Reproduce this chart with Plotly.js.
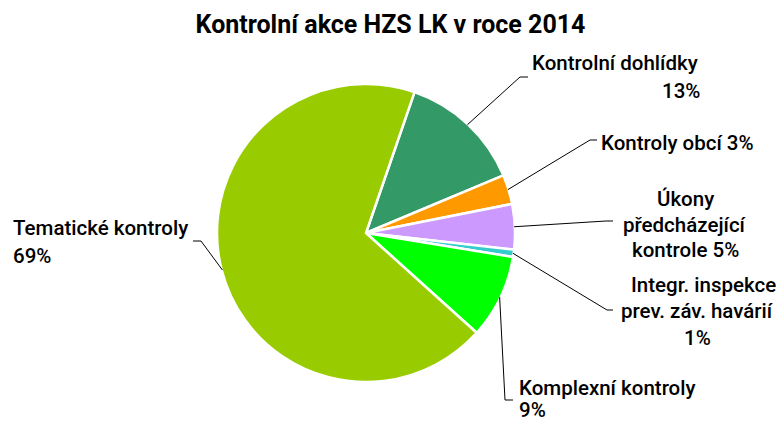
<!DOCTYPE html>
<html><head><meta charset="utf-8">
<script src="https://cdn.plot.ly/plotly-3.0.1.min.js"></script>
<style>html,body{margin:0;padding:0;background:#fff;}#chart{width:781px;height:423px;}</style>
</head><body><div id="chart"></div>
<script>
const categories = ["Kontrolní dohlídky","Kontroly obcí","Úkony předcházející kontrole","Integr. inspekce prev. záv. havárií","Komplexní kontroly","Tematické kontroly"];
const values = [13.4, 3.2, 4.9, 0.8, 9.1, 68.6];
const colors = ["#339966","#FF9900","#CC99FF","#33CCCC","#00FF00","#99CC00"];
// label lines per category ({p} = percentage)
const labelLines = [
  ["Kontrolní dohlídky", "{p}"],
  ["Kontroly obcí {p}"],
  ["Úkony", "předcházející", "kontrole {p}"],
  ["Integr. inspekce", "prev. záv. havárií", "{p}"],
  ["Komplexní kontroly", "{p}"],
  ["Tematické kontroly", "{p}"]
];

const W = 781, H = 423;
const CX = 366, CY = 233, R = 149, ROT = 19;
const px = x => x / W, py = y => 1 - y / H;
const FONT = "Roboto, sans-serif";

// label line positions (pixel)
const labelPos = [
  [{x:531,y:63,a:"left"},{x:701,y:91,a:"right"}],
  [{x:600,y:143,a:"left"}],
  [{x:685,y:199,a:"center"},{x:685,y:225,a:"center"},{x:685,y:250,a:"center"}],
  [{x:703,y:285,a:"center"},{x:697,y:311,a:"center"},{x:697,y:338,a:"center"}],
  [{x:518,y:388,a:"left"},{x:518,y:410,a:"left"}],
  [{x:12,y:228,a:"left"},{x:12,y:256,a:"left"}]
];
// leader elbows (pixel): [elbow, end]
const leaders = [
  [[520,77],[528,77]],
  [[590,140],[597,140]],
  [[606,221],[613,221]],
  [[607,310],[613,310]],
  [[505,400],[513,400]],
  [[201,241],[193,241]]
];

const total = values.reduce((a,b)=>a+b,0);
const shapes = [], annotations = [];
let cum = 0;
values.forEach((v,i)=>{
  const mid = (ROT + 360*(cum + v/2)/total) * Math.PI/180;
  cum += v;
  const ax = CX + R*0.995*Math.sin(mid), ay = CY - R*0.995*Math.cos(mid);
  const [e, f] = leaders[i];
  shapes.push({type:"path", xref:"paper", yref:"paper",
    path:`M ${px(ax)} ${py(ay)} L ${px(e[0])} ${py(e[1])} L ${px(f[0])} ${py(f[1])}`,
    line:{color:"#000", width:1}});
  const pct = Math.round(100*v/total) + "%";
  labelLines[i].forEach((t,j)=>{
    const p = labelPos[i][j];
    annotations.push({xref:"paper", yref:"paper", x:px(p.x), y:py(p.y), xanchor:p.a, yanchor:"middle",
      text:t.replace("{p}", pct), showarrow:false, borderpad:0,
      font:{family:FONT, size:20.5, weight:500, color:"#000"}});
  });
});

const trace = {
  type:"pie", labels:categories, values:values, sort:false, direction:"clockwise", rotation:ROT,
  marker:{colors:colors, line:{color:"#fff", width:2.5}},
  textinfo:"none", hoverinfo:"label+percent", showlegend:false,
  domain:{x:[px(CX-R), px(CX+R)], y:[py(CY+R), py(CY-R)]}
};

const layout = {
  width:W, height:H, margin:{l:0,r:0,t:0,b:0},
  paper_bgcolor:"#fff",
  title:{text:"<b>Kontrolní akce HZS LK v roce 2014</b>", x:0.5, xanchor:"center", y:py(24), yanchor:"middle",
    font:{family:FONT, size:25, color:"#000"}},
  shapes:shapes, annotations:annotations, showlegend:false
};
Plotly.newPlot("chart", [trace], layout, {displayModeBar:false, staticPlot:true});
</script></body></html>
